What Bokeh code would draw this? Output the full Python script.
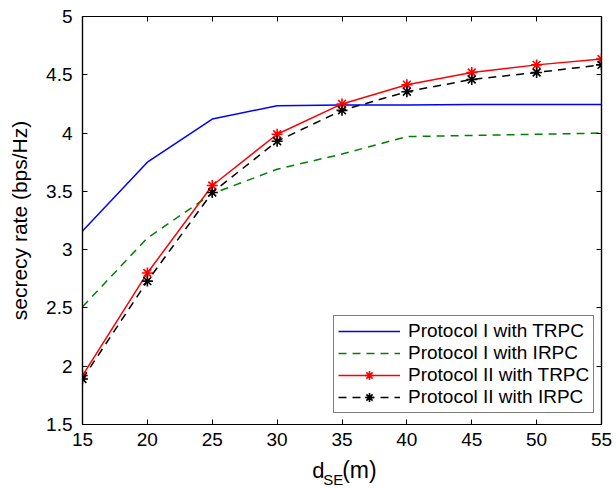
from bokeh.plotting import figure
from bokeh.models import Range1d, LinearAxis, FixedTicker, Legend, CustomLabelingPolicy, ColumnDataSource
from bokeh.layouts import column
from bokeh.core.properties import value
from bokeh.embed import file_html
from bokeh.resources import INLINE

d_se = [15, 20, 25, 30, 35, 40, 45, 50, 55]
p1_trpc = [3.16, 3.75, 4.12, 4.235, 4.24, 4.24, 4.245, 4.245, 4.245]
p1_irpc = [2.51, 3.10, 3.48, 3.69, 3.82, 3.97, 3.98, 3.99, 4.00]
p2_trpc = [1.92, 2.80, 3.55, 3.99, 4.25, 4.415, 4.52, 4.585, 4.635]
p2_irpc = [1.89, 2.73, 3.49, 3.93, 4.195, 4.355, 4.46, 4.52, 4.585]

x_ticks = [15, 20, 25, 30, 35, 40, 45, 50, 55]
y_ticks = [1.5, 2, 2.5, 3, 3.5, 4, 4.5, 5]

series_labels = ["Protocol I with TRPC", "Protocol I with IRPC",
                 "Protocol II with TRPC", "Protocol II with IRPC"]
y_label = "secrecy rate (bps/Hz)"
x_label_parts = ["d", "SE", "(m)"]

FONT = "Liberation Sans"

p = figure(width=616, height=454, output_backend="svg", toolbar_location=None,
           x_range=Range1d(15, 55), y_range=Range1d(1.5, 5),
           min_border_left=82, min_border_right=15, min_border_top=16, min_border_bottom=30,
           x_axis_location=None, y_axis_location=None)
p.xgrid.visible = False
p.ygrid.visible = False
p.outline_line_color = "black"
p.outline_line_width = 1.2
p.background_fill_color = "white"
p.border_fill_color = "white"

hide_labels = CustomLabelingPolicy(code="""
for (const i of indices) indices.unset(i)
return indices
""")

def style_axis(ax, show_labels):
    ax.major_tick_in = 5
    ax.major_tick_out = 0
    ax.minor_tick_in = 0
    ax.minor_tick_out = 0
    ax.axis_line_color = "black"
    ax.axis_line_width = 1.2
    ax.major_tick_line_width = 1
    ax.major_label_text_font = FONT
    ax.major_label_text_color = "black"
    if show_labels:
        ax.major_label_text_font_size = "19px"
        ax.major_label_standoff = 8
    else:
        ax.major_label_text_font_size = "8px"
        ax.major_label_standoff = 0
        ax.major_label_policy = hide_labels

xb = LinearAxis(ticker=FixedTicker(ticks=x_ticks))
style_axis(xb, True)
p.add_layout(xb, "below")
xt = LinearAxis(ticker=FixedTicker(ticks=x_ticks))
style_axis(xt, False)
p.add_layout(xt, "above")
yl = LinearAxis(ticker=FixedTicker(ticks=y_ticks), axis_label=y_label)
style_axis(yl, True)
yl.major_label_standoff = 10
yl.axis_label_text_font = FONT
yl.axis_label_text_font_size = "21px"
yl.axis_label_text_font_style = "normal"
yl.axis_label_text_color = "black"
yl.axis_label_standoff = 12
p.add_layout(yl, "left")
yr = LinearAxis(ticker=FixedTicker(ticks=y_ticks))
style_axis(yr, False)
p.add_layout(yr, "right")

r1 = p.line(d_se, p1_trpc, line_color="#0000ff", line_width=1.5)
r2 = p.line(d_se, p1_irpc, line_color="#008000", line_width=1.5, line_dash="8 6")
r3 = p.line(d_se, p2_trpc, line_color="#ff0000", line_width=1.5)
r3m = p.scatter(d_se, p2_trpc, marker="asterisk", size=11, line_color="#ff0000", line_width=1.6)
r4 = p.line(d_se, p2_irpc, line_color="black", line_width=1.5, line_dash="8 6")
r4m = p.scatter(d_se, p2_irpc, marker="asterisk", size=11, line_color="black", line_width=1.6)

legend = Legend(items=[
    (series_labels[0], [r1]),
    (series_labels[1], [r2]),
    (series_labels[2], [r3, r3m]),
    (series_labels[3], [r4, r4m]),
], location=(251, 11))
legend.label_text_font = FONT
legend.label_text_font_size = "19px"
legend.label_text_color = "black"
legend.border_line_color = "black"
legend.border_line_width = 1
legend.background_fill_alpha = 1
legend.padding = 4
legend.spacing = 0
legend.margin = 0
legend.glyph_width = 62
legend.glyph_height = 22
legend.label_height = 22
legend.label_standoff = 8
p.add_layout(legend, "center")

# x axis label strip (d with subscript SE, then (m)); frame aligned with the main plot
lab = figure(title=None, width=616, height=35, output_backend="svg", toolbar_location=None,
             x_range=Range1d(82, 601), y_range=Range1d(489, 454),
             min_border_left=82, min_border_right=15, min_border_top=0, min_border_bottom=0,
             x_axis_location=None, y_axis_location=None)
lab.xgrid.visible = False
lab.ygrid.visible = False
lab.outline_line_color = None
lab.background_fill_color = "white"
lab.border_fill_color = "white"
src = ColumnDataSource(dict(x=[311.7, 322.7, 341.7], y=[469.7, 479.0, 469.7],
                            text=x_label_parts, size=["22px", "15px", "23px"]))
lab.text(x="x", y="y", text="text", source=src, text_font=value(FONT),
         text_font_size="size", text_baseline="alphabetic", text_align="left",
         text_color="black")

layout = column(p, lab, spacing=0)
open("out.html", "w").write(file_html(layout, INLINE))
